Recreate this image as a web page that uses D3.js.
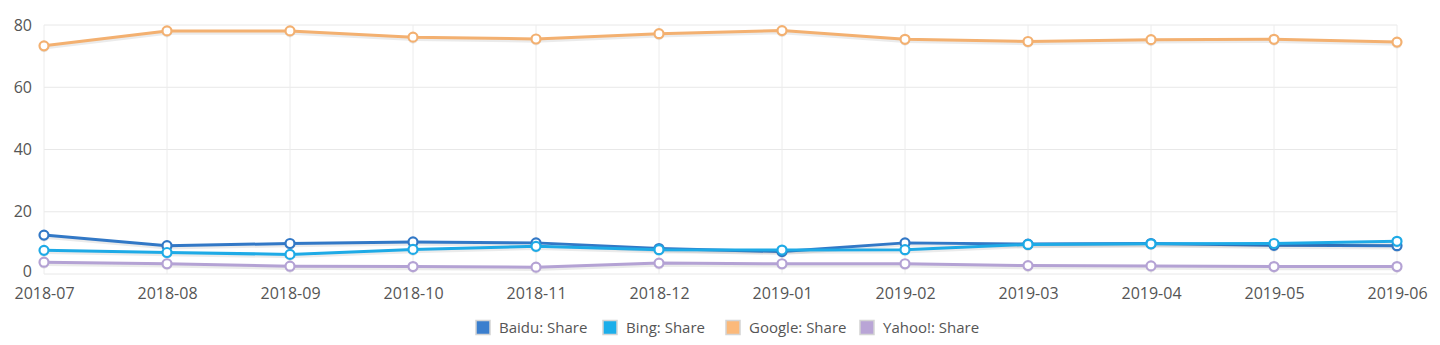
<!DOCTYPE html>
<html>
<head>
<meta charset="utf-8">
<script src="https://cdn.jsdelivr.net/npm/d3@7"></script>
<style>
  html, body { margin: 0; padding: 0; background: #fff; }
  svg { display: block; font-family: "Open Sans", "Noto Sans", sans-serif; }
</style>
</head>
<body>
<svg id="chart" width="1440" height="345"></svg>
<script>
const months = ["2018-07","2018-08","2018-09","2018-10","2018-11","2018-12","2019-01","2019-02","2019-03","2019-04","2019-05","2019-06"];
const yTicks = [0, 20, 40, 60, 80];
const seriesNames = ["Baidu: Share", "Bing: Share", "Google: Share", "Yahoo!: Share"];
const baidu  = [12.5, 9.1, 9.8, 10.3, 10.0, 8.2, 7.2, 10.0, 9.6, 9.8, 9.2, 9.1];
const bing   = [7.6, 6.9, 6.3, 7.9, 8.9, 7.8, 7.7, 7.8, 9.5, 9.7, 9.8, 10.5];
const google = [73.3, 78.1, 78.1, 76.1, 75.5, 77.2, 78.2, 75.4, 74.7, 75.3, 75.4, 74.5];
const yahoo  = [3.8, 3.3, 2.5, 2.4, 2.2, 3.5, 3.3, 3.3, 2.7, 2.6, 2.4, 2.4];
const lineColors   = ["#3278c6", "#1eaae6", "#f3b070", "#b4a2d4"];
const swatchColors = ["#3b7fce", "#1caeea", "#fbb97a", "#b9a5d6"];

const series = [baidu, bing, google, yahoo];

(function () {
const svg = d3.select("#chart");
const mLeft = 44, mRight = 1397, mTop = 25, mBottom = 274;

const x = d3.scalePoint().domain(months).range([mLeft, mRight]);
const y = d3.scaleLinear().domain([0, 80]).range([mBottom, mTop]);

// grid
const grid = svg.append("g");
grid.selectAll("line.h").data(yTicks).enter().append("line")
  .attr("x1", mLeft).attr("x2", mRight)
  .attr("y1", d => y(d)).attr("y2", d => y(d))
  .attr("stroke", "#e8e8e8").attr("stroke-width", 1);
grid.selectAll("line.v").data(months).enter().append("line")
  .attr("x1", d => x(d)).attr("x2", d => x(d))
  .attr("y1", mTop).attr("y2", mBottom)
  .attr("stroke", "#ececec").attr("stroke-width", 1);

// y axis labels
const yAxis = d3.axisLeft(y).tickValues(yTicks).tickSize(0).tickPadding(12);
const gy = svg.append("g").attr("transform", `translate(${mLeft},0)`).call(yAxis);
gy.select(".domain").remove();
gy.selectAll("text").attr("font-size", 16).attr("fill", "#555").attr("font-family", "Open Sans, sans-serif");
gy.selectAll(".tick").filter(d => d === 0).select("text").attr("y", -2.5);

// x axis labels
const xAxis = d3.axisBottom(x).tickSize(0).tickPadding(13.5);
const gx = svg.append("g").attr("transform", `translate(0,${mBottom})`).call(xAxis);
gx.select(".domain").remove();
gx.selectAll("text").attr("font-size", 16).attr("fill", "#555").attr("font-family", "Open Sans, sans-serif");

const line = d3.line().x((d, i) => x(months[i])).y(d => y(d));

series.forEach((vals, si) => {
  const g = svg.append("g");
  g.append("path").datum(vals).attr("d", line)
    .attr("fill", "none").attr("stroke", "rgba(0,0,0,0.08)").attr("stroke-width", 3.5)
    .attr("transform", "translate(0,2)");
  g.append("path").datum(vals).attr("d", line)
    .attr("fill", "none").attr("stroke", lineColors[si]).attr("stroke-width", 3)
    .attr("stroke-linejoin", "round");
  g.selectAll("circle.s").data(vals).enter().append("circle")
    .attr("cx", (d, i) => x(months[i])).attr("cy", d => y(d) + 1.5).attr("r", 5)
    .attr("fill", "rgba(0,0,0,0.08)");
  g.selectAll("circle.m").data(vals).enter().append("circle")
    .attr("cx", (d, i) => x(months[i])).attr("cy", d => y(d)).attr("r", 4.5)
    .attr("fill", "#fff").attr("stroke", lineColors[si]).attr("stroke-width", 2.2);
});

// legend
const legendX = [476, 603, 726, 860];
const lg = svg.append("g");
seriesNames.forEach((name, i) => {
  const item = lg.append("g").attr("transform", `translate(${legendX[i]},320.5)`);
  item.append("rect").attr("x", 0).attr("y", 0).attr("width", 14).attr("height", 14)
    .attr("fill", swatchColors[i]).attr("stroke", "#d4d4d4").attr("stroke-width", 1.5);
  item.append("text").attr("x", 23).attr("y", 12.5).attr("font-size", 15)
    .attr("fill", "#555").text(name);
});
})();
</script>
</body>
</html>
